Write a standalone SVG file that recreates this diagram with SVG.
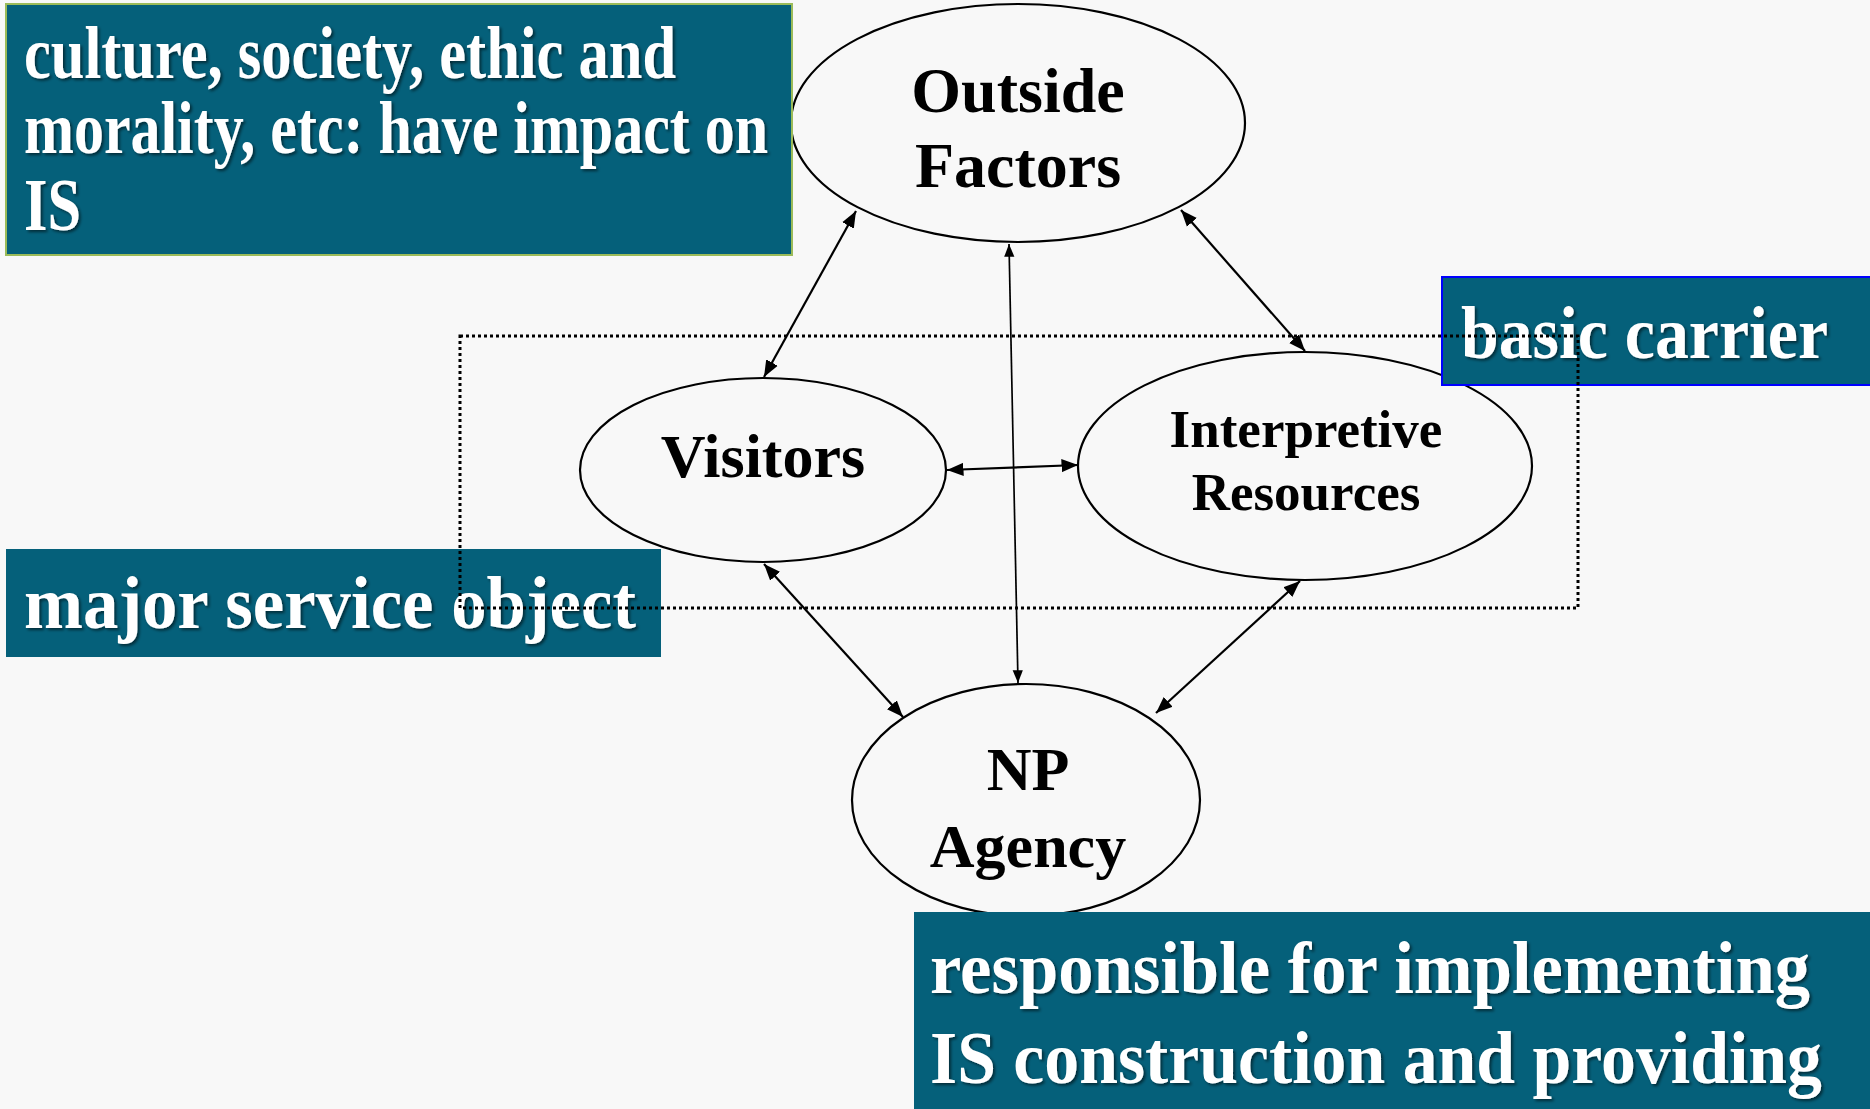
<svg xmlns="http://www.w3.org/2000/svg" width="1870" height="1109" viewBox="0 0 1870 1109">
<style>
.bg{fill:#f8f8f8}
.box{fill:#05607a}
.lbl{font-family:"Liberation Serif","Times New Roman",serif;font-weight:bold;fill:#ffffff;font-size:73px}
.node{fill:none;stroke:#000;stroke-width:2.2}
.ntxt{font-family:"Liberation Serif","Times New Roman",serif;font-weight:bold;fill:#000;text-anchor:middle}
.conn{stroke:#000;stroke-width:2.2;fill:none;marker-start:url(#ah);marker-end:url(#ah)}
.dot{fill:none;stroke:#000;stroke-width:3;stroke-dasharray:3 3}
</style>
<defs>
<marker id="ah" viewBox="0 0 10 10" refX="10" refY="5" markerWidth="7.5" markerHeight="7.5" markerUnits="strokeWidth" orient="auto-start-reverse">
<path d="M0,1 L10,5 L0,9 z" fill="#000"/>
</marker>
<filter id="sh" x="-5%" y="-20%" width="110%" height="140%">
<feDropShadow dx="2" dy="2" stdDeviation="1.5" flood-color="#000" flood-opacity="0.55"/>
</filter>
</defs>
<rect class="bg" x="0" y="0" width="1870" height="1109"/>

<g id="node-outside">
<ellipse class="node" cx="1018" cy="123" rx="227" ry="119"/>
<text class="ntxt" x="1018" y="112" font-size="64">Outside</text>
<text class="ntxt" x="1018" y="187" font-size="64">Factors</text>
</g>
<g id="node-visitors">
<ellipse class="node" cx="763" cy="470" rx="183" ry="92"/>
<text class="ntxt" x="763" y="477" font-size="62">Visitors</text>
</g>
<g id="node-interp">
<ellipse class="node" cx="1305" cy="466" rx="227" ry="114"/>
<text class="ntxt" x="1306" y="447" font-size="53">Interpretive</text>
<text class="ntxt" x="1306" y="510" font-size="53">Resources</text>
</g>
<g id="node-np">
<ellipse class="node" cx="1026" cy="800" rx="174" ry="116"/>
<text class="ntxt" x="1028" y="790" font-size="62">NP</text>
<text class="ntxt" x="1028" y="867" font-size="62">Agency</text>
</g>

<g id="connectors">
<line class="conn" x1="856" y1="211" x2="764" y2="377"/>
<line class="conn" x1="1009" y1="244" x2="1018" y2="683" style="stroke-width:1.7"/>
<line class="conn" x1="1181" y1="210" x2="1305" y2="351"/>
<line class="conn" x1="947" y1="470" x2="1078" y2="465"/>
<line class="conn" x1="764" y1="564" x2="903" y2="717"/>
<line class="conn" x1="1300" y1="581" x2="1156" y2="713"/>
</g>

<g id="label-culture">
<rect class="box" x="6" y="4" width="786" height="251" stroke="#9bbb59" stroke-width="2"/>
<text class="lbl" filter="url(#sh)"><tspan x="24" y="78" textLength="652" lengthAdjust="spacingAndGlyphs">culture, society, ethic and</tspan><tspan x="24" y="153" textLength="744" lengthAdjust="spacingAndGlyphs">morality, etc: have impact on</tspan><tspan x="24" y="230" textLength="57" lengthAdjust="spacingAndGlyphs">IS</tspan></text>
</g>
<g id="label-basic">
<rect class="box" x="1442" y="277" width="430" height="108" stroke="#0000ff" stroke-width="2"/>
<text class="lbl" filter="url(#sh)" x="1461" y="358" textLength="367" lengthAdjust="spacingAndGlyphs">basic carrier</text>
</g>
<g id="label-major">
<rect class="box" x="6" y="549" width="655" height="108"/>
<text class="lbl" filter="url(#sh)" x="24" y="628" textLength="612" lengthAdjust="spacingAndGlyphs">major service object</text>
</g>
<g id="label-resp">
<rect class="box" x="914" y="912" width="960" height="200"/>
<text class="lbl" filter="url(#sh)"><tspan x="930" y="993" textLength="880" lengthAdjust="spacingAndGlyphs">responsible for implementing</tspan><tspan x="930" y="1083" textLength="892" lengthAdjust="spacingAndGlyphs">IS construction and providing</tspan></text>
</g>

<rect id="group-frame" class="dot" x="460" y="336" width="1118" height="272"/>
</svg>
